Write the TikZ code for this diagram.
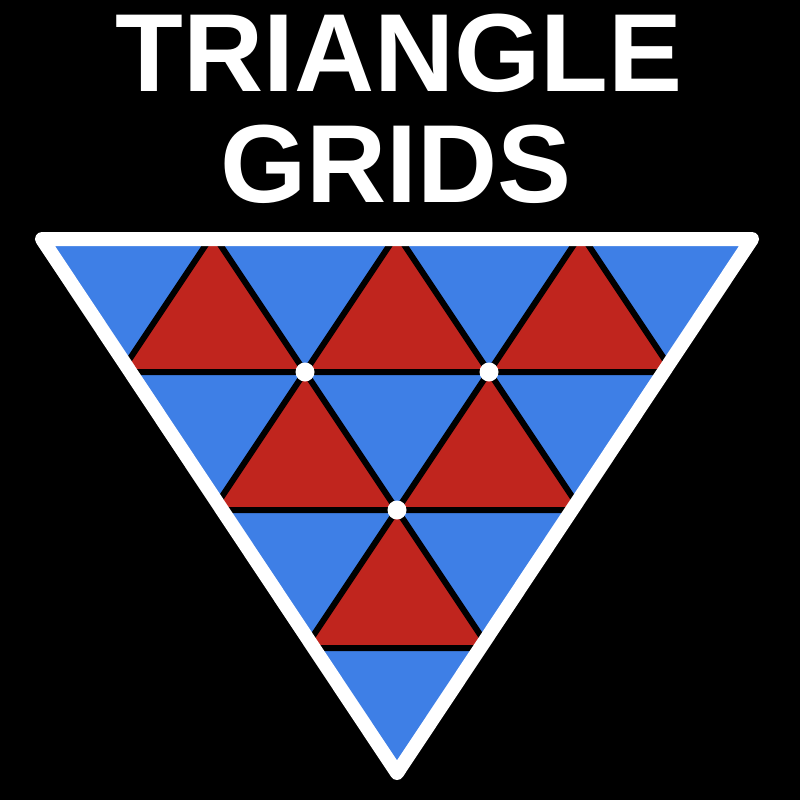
\documentclass[tikz,border=0pt]{standalone}
\usepackage{fontspec}
\setmainfont{Liberation Sans}
\usetikzlibrary{positioning}
\definecolor{gridblue}{RGB}{62,127,230}
\definecolor{gridred}{RGB}{192,37,30}

\begin{document}
\begin{tikzpicture}[
  x=1pt, y=-1pt,
  title/.style={text=white, font=\fontsize{111}{111}\selectfont\bfseries, anchor=base, inner sep=0pt},
  redtri/.style={fill=gridred, draw=black, line width=6pt, line join=round},
  rim/.style={draw=white, line width=14pt, line join=round},
  dot/.style={circle, fill=white, inner sep=0pt, minimum size=19pt}]
\fill[black] (0,0) rectangle (800,800);
\useasboundingbox (0,0) rectangle (800,800);
\node[title] (top) at (399,92) {TRIANGLE};
\node[title] (bot) at (396,202) {GRIDS};
% corners of the white rim
\coordinate (tl) at (42,239);
\coordinate (tr) at (752,239);
\coordinate (bm) at (397,773);
\begin{scope}
\clip (tl) -- (tr) -- (bm) -- cycle;
\fill[gridblue] (29,234) -- (765,234) -- (397,786) -- cycle;
\foreach \r in {0,1,2} {
  \pgfmathtruncatemacro{\n}{2-\r}
  \foreach \j in {0,...,\n}
    \filldraw[redtri] ({121+92*\r+184*\j},{372+138*\r}) -- ++(184,0) -- ++(-92,-138) -- cycle;
}
\end{scope}
\node[dot] (d1) at (305,372) {};
\node[dot] (d2) at (489,372) {};
\node[dot] (d3) at (397,510) {};
\draw[rim] (tl) -- (tr) -- (bm) -- cycle;
\end{tikzpicture}
\end{document}
